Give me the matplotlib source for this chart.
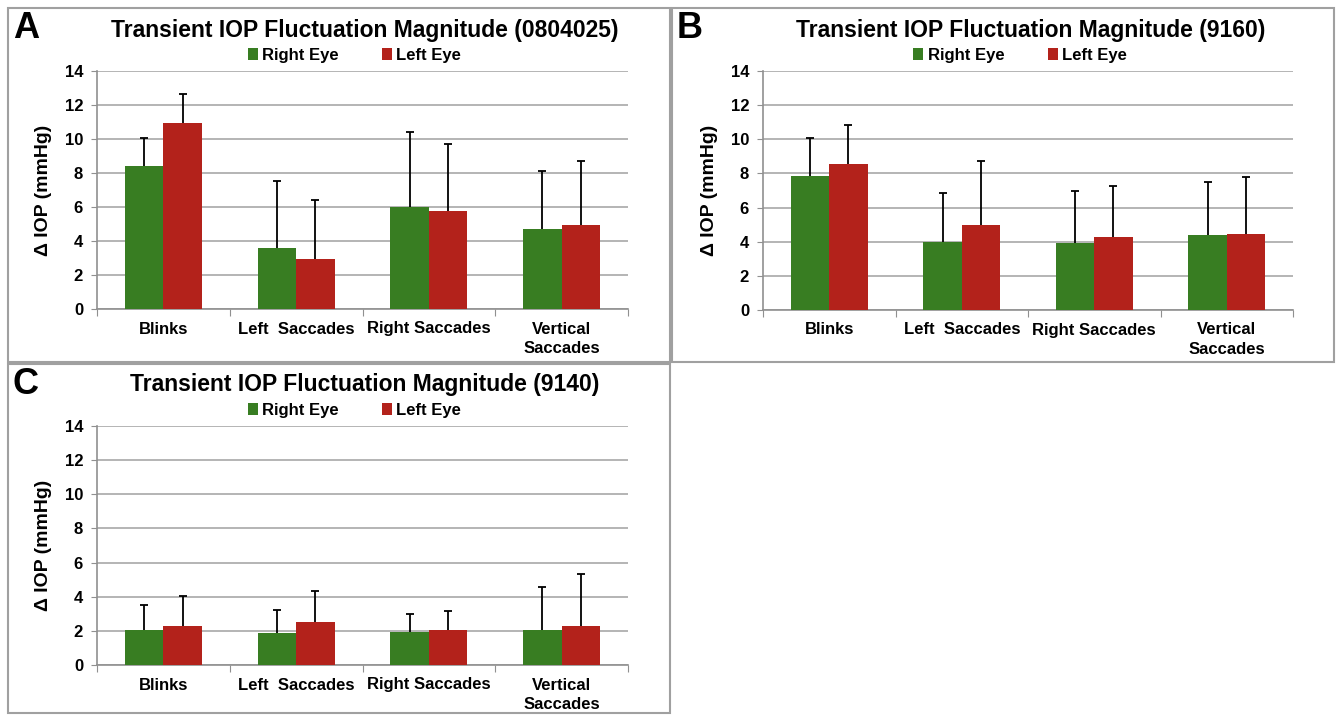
import matplotlib
matplotlib.use("Agg")
import matplotlib.pyplot as plt
from matplotlib.patches import Rectangle
import numpy as np

# categories and series values
categories = ["Blinks", "Left  Saccades", "Right Saccades", "Vertical\nSaccades"]
series_names = ["Right Eye", "Left Eye"]

a_right = [8.4, 3.6, 6.0, 4.7]
a_right_err = [1.65, 3.95, 4.4, 3.4]
a_left = [10.95, 2.95, 5.75, 4.95]
a_left_err = [1.7, 3.45, 3.95, 3.75]

b_right = [7.85, 4.0, 3.9, 4.4]
b_right_err = [2.25, 2.85, 3.1, 3.1]
b_left = [8.55, 4.95, 4.3, 4.45]
b_left_err = [2.3, 3.75, 2.95, 3.35]

c_right = [2.05, 1.9, 1.95, 2.05]
c_right_err = [1.45, 1.3, 1.05, 2.5]
c_left = [2.3, 2.5, 2.05, 2.3]
c_left_err = [1.75, 1.85, 1.1, 3.05]

titles = ["Transient IOP Fluctuation Magnitude (0804025)",
          "Transient IOP Fluctuation Magnitude (9160)",
          "Transient IOP Fluctuation Magnitude (9140)"]
letters = ["A", "B", "C"]
y_ticks = [0, 2, 4, 6, 8, 10, 12, 14]

GREEN = "#387d22"
RED = "#b3221b"
W, H = 1336, 715
FONT = ["Liberation Sans Narrow", "Liberation Sans", "DejaVu Sans"]
plt.rcParams['font.family'] = FONT
plt.rcParams['font.weight'] = 'bold'

fig = plt.figure(figsize=(W / 100, H / 100), dpi=100)


def px_rect(x0, yt, x1, yb):
    return [x0 / W, 1 - yb / H, (x1 - x0) / W, (yb - yt) / H]


# panel frames
for (x0, yt, x1, yb) in [(8, 8, 670, 362), (672, 8, 1334, 362), (8, 364, 670, 713)]:
    fig.patches.append(Rectangle((x0 / W, 1 - yb / H), (x1 - x0) / W, (yb - yt) / H,
                                 transform=fig.transFigure, fill=False,
                                 edgecolor="#a0a0a0", linewidth=1.5))


def drawPanel(rect, right, right_err, left, left_err, title, letter, frame_origin):
    ax = fig.add_axes(px_rect(*rect))
    x = np.arange(len(categories))
    w = 0.29
    ekw = dict(ecolor="black", elinewidth=1.3, capsize=3, capthick=1.3)
    for off, vals, errs, col, name in [(-w / 2, right, right_err, GREEN, series_names[0]),
                                        (w / 2, left, left_err, RED, series_names[1])]:
        bars = ax.bar(x + off, vals, w, color=col, label=name, zorder=3,
                      yerr=[np.zeros(len(vals)), errs], error_kw=ekw)
        # only the upper half of the error bar is shown
        caps = bars.errorbar.lines[1]
        if len(caps) > 1:
            caps[0].set_visible(False)
    ax.set_xlim(-0.5, len(categories) - 0.5)
    ax.set_ylim(0, 14)
    ax.set_yticks(y_ticks)
    ax.set_yticklabels([str(t) for t in y_ticks], fontsize=12, fontweight="bold")
    ax.yaxis.grid(True, color="#a8a8a8", linewidth=1.2, zorder=0)
    ax.set_axisbelow(True)
    ax.set_xticks(np.arange(-0.5, len(categories), 1.0))
    ax.set_xticklabels([])
    ax.set_xticks(x, minor=True)
    ax.set_xticklabels(categories, minor=True, fontsize=12, fontweight="bold",
                       linespacing=1.35)
    ax.tick_params(axis="x", which="minor", length=0, pad=9)
    ax.tick_params(axis="x", which="major", length=5, color="#909090")
    ax.tick_params(axis="y", length=4, color="#909090", pad=6)
    for s in ["top", "right"]:
        ax.spines[s].set_visible(False)
    for s in ["left", "bottom"]:
        ax.spines[s].set_color("#909090")
        ax.spines[s].set_linewidth(1.2)
    ax.set_ylabel("\u0394 IOP (mmHg)", fontsize=14, fontweight="bold", labelpad=9,
                  family=FONT)
    ax.legend(loc="lower center", bbox_to_anchor=(0.485, 1.0), ncol=2, frameon=False,
              handlelength=0.6, handleheight=0.7, handletextpad=0.25,
              columnspacing=2.6, borderaxespad=0.1,
              prop=dict(size=12, weight="bold", family=FONT))
    fig.text(rect[0] / W + 0.505 * (rect[2] - rect[0]) / W, 1 - (rect[1] - 41) / H, title,
             ha="center", va="center", fontsize=16.5, fontweight="bold")
    fig.text((frame_origin[0] + 5) / W, 1 - (frame_origin[1] + 20) / H, letter,
             ha="left", va="center", fontsize=26, fontweight="bold",
             family=["Liberation Sans", "DejaVu Sans"])
    return ax


drawPanel((97, 71, 628, 309), a_right, a_right_err, a_left, a_left_err,
          titles[0], letters[0], (8, 8))
drawPanel((763, 71, 1293, 310), b_right, b_right_err, b_left, b_left_err,
          titles[1], letters[1], (672, 8))
drawPanel((97, 426, 628, 665), c_right, c_right_err, c_left, c_left_err,
          titles[2], letters[2], (8, 364))

fig.savefig("out.png", dpi=100, facecolor="white")
